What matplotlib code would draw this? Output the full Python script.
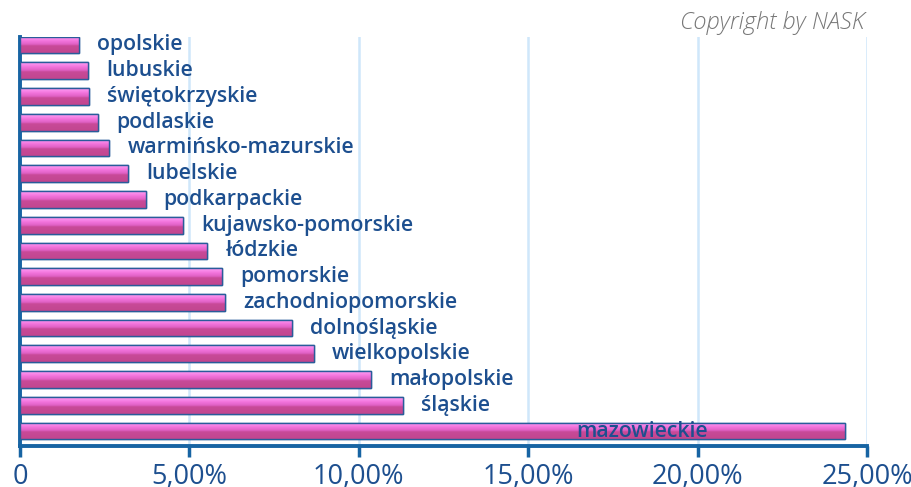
import matplotlib.pyplot as plt
import numpy as np
from matplotlib.colors import LinearSegmentedColormap

# Udział województw (%)
wojewodztwa = ["mazowieckie", "śląskie", "małopolskie", "wielkopolskie", "dolnośląskie",
               "zachodniopomorskie", "pomorskie", "łódzkie", "kujawsko-pomorskie",
               "podkarpackie", "lubelskie", "warmińsko-mazurskie", "podlaskie",
               "świętokrzyskie", "lubuskie", "opolskie"]
udzial = [24.35, 11.30, 10.36, 8.68, 8.02, 6.05, 5.96, 5.53, 4.82,
          3.71, 3.20, 2.64, 2.31, 2.05, 2.02, 1.74]
ticks = [0, 5, 10, 15, 20, 25]
tick_labels = ["0", "5,00%", "10,00%", "15,00%", "20,00%", "25,00%"]

navy = "#1d4f8f"
axis_blue = "#1764a3"

fig = plt.figure(figsize=(9.11, 4.87), dpi=100)
ax = fig.add_axes([20 / 911, 1 - 446 / 487, 847 / 911, 409 / 487])

y = np.arange(len(wojewodztwa))
h = 0.65
bars = ax.barh(y, udzial, height=h, color="#e060c8", edgecolor="#2a5c9a",
               linewidth=1.0, zorder=3)

# gradient "cylindra"
cmap = LinearSegmentedColormap.from_list("rozowy", [
    (0.0, "#c2468f"), (0.42, "#c84a98"), (0.52, "#e060c4"),
    (0.72, "#f274dc"), (0.88, "#fb8cec"), (1.0, "#f6a4ee")])
grad = np.linspace(0, 1, 64).reshape(-1, 1)
for b, v, yy in zip(bars, udzial, y):
    im = ax.imshow(grad, extent=[0, v, yy - h / 2, yy + h / 2], origin="lower",
                   aspect="auto", cmap=cmap, zorder=3.5)
    im.set_clip_path(b)
    ax.barh(yy, v, height=h, facecolor="none", edgecolor="#2a5c9a",
            linewidth=1.0, zorder=4)

for v, yy, name in zip(udzial, y, wojewodztwa):
    if v > 20:
        ax.text(v - 4.05, yy, name, ha="right", va="center", color=navy,
                fontsize=15.3, fontweight="semibold", family="Open Sans", zorder=5)
    else:
        ax.text(v + 0.53, yy, name, ha="left", va="center", color=navy,
                fontsize=15.3, fontweight="semibold", family="Open Sans", zorder=5)

ax.set_xlim(0, 25)
ax.set_ylim(-0.58, 15.31)
ax.set_xticks(ticks)
ax.set_xticklabels(tick_labels, fontsize=19.5, family="Open Sans", color=navy)
ax.set_yticks([])
ax.tick_params(axis="x", length=8, width=2.5, color=axis_blue, pad=4)
ax.grid(axis="x", color="#cfe7fa", linewidth=1.8, zorder=0)
for s in ["top", "right"]:
    ax.spines[s].set_visible(False)
for s in ["left", "bottom"]:
    ax.spines[s].set_color(axis_blue)
    ax.spines[s].set_linewidth(2.8)

fig.text(865 / 911, 1 - 23 / 487, "Copyright by NASK", ha="right", va="center",
         fontsize=17, style="italic", color="#777777", family="Open Sans",
         fontweight="light")

fig.savefig("out.png", dpi=100)
